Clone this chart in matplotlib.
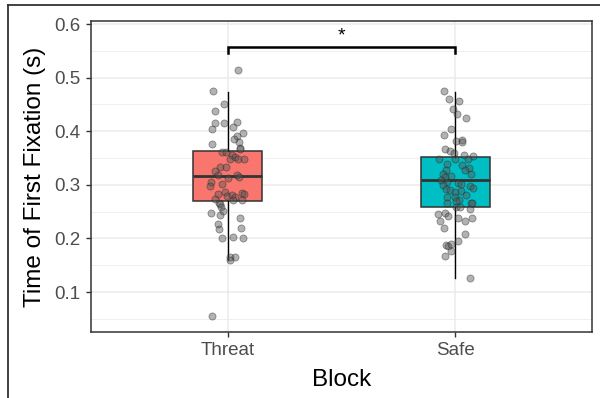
import matplotlib
matplotlib.use("Agg")
import matplotlib.pyplot as plt
from matplotlib.lines import Line2D

plt.rcParams["font.family"] = ["Liberation Sans", "DejaVu Sans"]

blocks = ["Threat", "Safe"]
box_colors = ["#F8766D", "#00BFC4"]

# box statistics: low whisker, q1, median, q3, high whisker
threat_box = [0.160, 0.270, 0.317, 0.363, 0.474]
safe_box = [0.127, 0.259, 0.309, 0.351, 0.474]

# individual observations and their horizontal jitter
threat_vals = [0.515, 0.475, 0.451, 0.438, 0.416, 0.415, 0.417, 0.404, 0.408, 0.396,
               0.391, 0.385, 0.379, 0.376, 0.369, 0.366, 0.361, 0.356, 0.349, 0.351,
               0.348, 0.348, 0.361, 0.334, 0.333, 0.325, 0.318, 0.313, 0.318, 0.315,
               0.306, 0.298, 0.301, 0.282, 0.287, 0.280, 0.281, 0.278, 0.284, 0.282,
               0.272, 0.273, 0.267, 0.259, 0.272, 0.264, 0.252, 0.248, 0.244, 0.239,
               0.226, 0.217, 0.219, 0.200, 0.203, 0.200, 0.165, 0.165, 0.160, 0.056]
threat_jit = [0.044, -0.066, -0.018, -0.056, -0.056, -0.015, 0.040, -0.068, 0.023, 0.069,
              0.040, 0.028, 0.048, -0.068, 0.054, 0.054, -0.026, 0.020, 0.010, 0.032,
              0.044, 0.073, -0.007, -0.034, -0.007, -0.056, -0.041, 0.003, 0.042, 0.051,
              -0.075, -0.078, -0.026, -0.041, -0.012, -0.004, 0.018, 0.032, 0.061, 0.073,
              0.025, -0.056, -0.037, -0.029, 0.064, -0.034, -0.022, -0.073, -0.034, 0.054,
              -0.041, -0.038, 0.057, -0.026, 0.022, 0.069, 0.010, 0.032, 0.010, -0.070]

safe_vals = [0.475, 0.460, 0.456, 0.441, 0.433, 0.424, 0.404, 0.393, 0.382, 0.384,
             0.379, 0.366, 0.364, 0.360, 0.356, 0.354, 0.348, 0.348, 0.348, 0.339,
             0.337, 0.331, 0.328, 0.328, 0.321, 0.321, 0.315, 0.316, 0.309, 0.306,
             0.304, 0.300, 0.301, 0.298, 0.295, 0.293, 0.290, 0.287, 0.289, 0.281,
             0.278, 0.278, 0.272, 0.266, 0.266, 0.259, 0.270, 0.267, 0.258, 0.254,
             0.246, 0.247, 0.242, 0.239, 0.239, 0.233, 0.233, 0.220, 0.208, 0.196,
             0.188, 0.185, 0.190, 0.177, 0.168, 0.127]
safe_jit = [-0.051, -0.029, 0.014, -0.011, 0.009, 0.045, -0.021, -0.051, 0.004, 0.031,
            0.029, -0.047, -0.022, -0.007, 0.038, 0.077, -0.073, 0.000, 0.055, -0.037,
            0.029, 0.060, -0.040, 0.041, -0.054, 0.070, -0.047, -0.018, -0.061, -0.037,
            0.011, -0.054, 0.026, 0.063, 0.077, -0.040, -0.025, -0.003, 0.023, 0.048,
            -0.035, 0.000, 0.016, 0.070, -0.037, 0.001, 0.004, 0.073, 0.019, 0.063,
            -0.076, -0.047, -0.032, 0.011, 0.075, -0.066, 0.041, -0.051, 0.041, 0.011,
            -0.043, -0.032, -0.021, -0.018, -0.044, 0.063]

yticks = [0.1, 0.2, 0.3, 0.4, 0.5, 0.6]
minor_ticks = [0.05, 0.15, 0.25, 0.35, 0.45, 0.55]
bracket_y = 0.557
bracket_drop = 0.011

fig = plt.figure(figsize=(6.0, 3.98), dpi=100)
ax = fig.add_axes([0.1517, 0.1658, 0.835, 0.7814])

# theme_bw-like grid
for y in yticks:
    ax.axhline(y, color="#EBEBEB", lw=1.1, zorder=0)
for y in minor_ticks:
    ax.axhline(y, color="#EBEBEB", lw=0.55, zorder=0)
for x in (1, 2):
    ax.axvline(x, color="#EBEBEB", lw=1.1, zorder=0)

stats = []
for name, b in zip(blocks, [threat_box, safe_box]):
    stats.append(dict(label=name, whislo=b[0], q1=b[1], med=b[2], q3=b[3], whishi=b[4]))
bp = ax.bxp(stats, positions=[1, 2], widths=0.3, showcaps=False, showfliers=False,
            patch_artist=True,
            boxprops=dict(edgecolor="#333333", linewidth=1.1),
            medianprops=dict(color="#333333", linewidth=2.0),
            whiskerprops=dict(color="black", linewidth=1.0))
for patch, c in zip(bp["boxes"], box_colors):
    patch.set_facecolor(c)
for art in bp["boxes"] + bp["medians"] + bp["whiskers"]:
    art.set_zorder(2)

pt_style = dict(s=26, facecolor="#555555", edgecolor="#222222", alpha=0.45,
                linewidths=0.6, zorder=3)
ax.scatter([1 + j for j in threat_jit], threat_vals, **pt_style)
ax.scatter([2 + j for j in safe_jit], safe_vals, **pt_style)

# significance bracket
ax.plot([1, 1, 2, 2], [bracket_y - bracket_drop, bracket_y, bracket_y, bracket_y - bracket_drop],
        color="black", lw=1.8, zorder=4, solid_joinstyle="miter")
ax.text(1.5, bracket_y + 0.004, "*", ha="center", va="bottom", fontsize=14, color="black")

ax.set_xlim(0.4, 2.6)
ax.set_ylim(0.0254, 0.6056)
ax.set_xticks([1, 2])
ax.set_xticklabels(blocks)
ax.set_yticks(yticks)
ax.set_yticklabels([f"{v:.1f}" for v in yticks])
ax.tick_params(axis="both", colors="#333333", length=3.5, width=1.0, labelsize=13.5,
               labelcolor="#4D4D4D", pad=4)
for sp in ax.spines.values():
    sp.set_color("#333333")
    sp.set_linewidth(1.1)

ax.set_xlabel("Block", fontsize=17.5, labelpad=7)
ax.set_ylabel("Time of First Fixation (s)", fontsize=17.5, labelpad=6)

# screenshot frame
fig.add_artist(Line2D([0.0133, 1.0], [0.987, 0.987], color="#333333", lw=1.3,
                      transform=fig.transFigure))
fig.add_artist(Line2D([0.0133, 0.0133], [0.0, 0.987], color="#333333", lw=1.3,
                      transform=fig.transFigure))

fig.savefig("out.png", dpi=100)
